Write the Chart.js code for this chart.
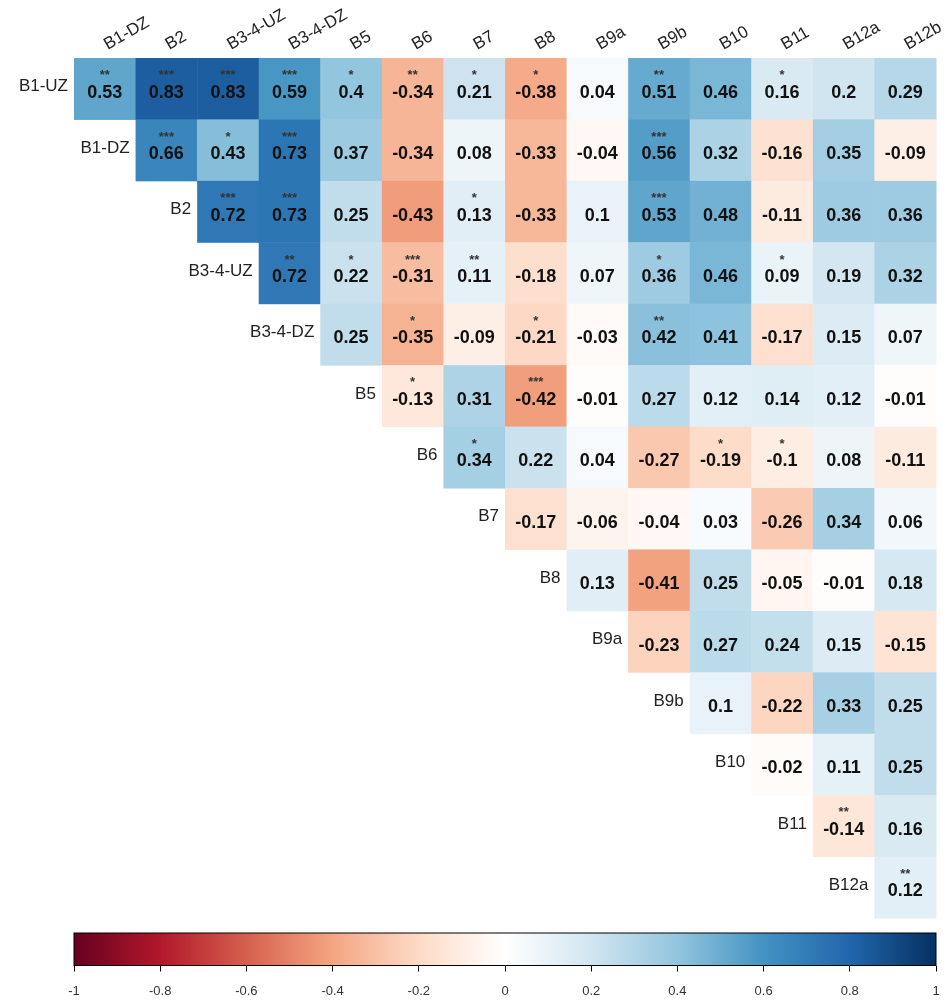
<!DOCTYPE html>
<html>
<head>
<meta charset="utf-8">
<script src="https://cdn.jsdelivr.net/npm/chart.js@4/dist/chart.umd.min.js"></script>
<style>
  body { margin: 0; background: #fff; }
  #main { display: block; }
  #bar { display: block; }
</style>
</head>
<body>
<div style="width:949px;height:925px"><canvas id="main"></canvas></div>
<div style="width:949px;height:77px"><canvas id="bar"></canvas></div>
<script>
// --- data ---
const rowLabels = ['B1-UZ', 'B1-DZ', 'B2', 'B3-4-UZ', 'B3-4-DZ', 'B5', 'B6', 'B7', 'B8', 'B9a', 'B9b', 'B10', 'B11', 'B12a'];
const colLabels = ['B1-DZ', 'B2', 'B3-4-UZ', 'B3-4-DZ', 'B5', 'B6', 'B7', 'B8', 'B9a', 'B9b', 'B10', 'B11', 'B12a', 'B12b'];

// each row starts at the diagonal column
const corrRows = [
    [0.53, 0.83, 0.83, 0.59, 0.4, -0.34, 0.21, -0.38, 0.04, 0.51, 0.46, 0.16, 0.2, 0.29],
    [0.66, 0.43, 0.73, 0.37, -0.34, 0.08, -0.33, -0.04, 0.56, 0.32, -0.16, 0.35, -0.09],
    [0.72, 0.73, 0.25, -0.43, 0.13, -0.33, 0.1, 0.53, 0.48, -0.11, 0.36, 0.36],
    [0.72, 0.22, -0.31, 0.11, -0.18, 0.07, 0.36, 0.46, 0.09, 0.19, 0.32],
    [0.25, -0.35, -0.09, -0.21, -0.03, 0.42, 0.41, -0.17, 0.15, 0.07],
    [-0.13, 0.31, -0.42, -0.01, 0.27, 0.12, 0.14, 0.12, -0.01],
    [0.34, 0.22, 0.04, -0.27, -0.19, -0.1, 0.08, -0.11],
    [-0.17, -0.06, -0.04, 0.03, -0.26, 0.34, 0.06],
    [0.13, -0.41, 0.25, -0.05, -0.01, 0.18],
    [-0.23, 0.27, 0.24, 0.15, -0.15],
    [0.1, -0.22, 0.33, 0.25],
    [-0.02, 0.11, 0.25],
    [-0.14, 0.16],
    [0.12]
];
const starRows = [
    ['**', '***', '***', '***', '*', '**', '*', '*', '', '**', '', '*', '', ''],
    ['***', '*', '***', '', '', '', '', '', '***', '', '', '', ''],
    ['***', '***', '', '', '*', '', '', '***', '', '', '', ''],
    ['**', '*', '***', '**', '', '', '*', '', '*', '', ''],
    ['', '*', '', '*', '', '**', '', '', '', ''],
    ['*', '', '***', '', '', '', '', '', ''],
    ['*', '', '', '', '*', '*', '', ''],
    ['', '', '', '', '', '', ''],
    ['', '', '', '', '', ''],
    ['', '', '', '', ''],
    ['', '', '', ''],
    ['', '', ''],
    ['**', ''],
    ['**']
];
const colorbarTicks = [-1, -0.8, -0.6, -0.4, -0.2, 0, 0.2, 0.4, 0.6, 0.8, 1];

// RdBu palette as used by corrplot
const palette = ['#67001F', '#B2182B', '#D6604D', '#F4A582', '#FDDBC7', '#FFFFFF',
                 '#D1E5F0', '#92C5DE', '#4393C3', '#2166AC', '#053061'];

function hexToRgb(h) {
    return [parseInt(h.slice(1, 3), 16), parseInt(h.slice(3, 5), 16), parseInt(h.slice(5, 7), 16)];
}
function colorFor(v) {
    const t = (v + 1) / 2 * (palette.length - 1);
    const i = Math.min(Math.floor(t), palette.length - 2);
    const f = t - i;
    const a = hexToRgb(palette[i]), b = hexToRgb(palette[i + 1]);
    const c = a.map((x, k) => Math.round(x + (b[k] - x) * f));
    return `rgb(${c[0]},${c[1]},${c[2]})`;
}

// build cell points
const cells = [];
corrRows.forEach((row, i) => {
    row.forEach((v, k) => {
        cells.push({ x: i + k + 0.5, y: i + 0.5, v: v, s: starRows[i][k] });
    });
});

const FONT = '"Liberation Sans", Arial, sans-serif';

const cellPlugin = {
    id: 'cells',
    beforeDatasetsDraw(chart) {
        const { ctx, scales: { x, y } } = chart;
        ctx.save();
        cells.forEach(c => {
            const x0 = x.getPixelForValue(c.x - 0.5), x1 = x.getPixelForValue(c.x + 0.5);
            const y0 = y.getPixelForValue(c.y - 0.5), y1 = y.getPixelForValue(c.y + 0.5);
            ctx.fillStyle = colorFor(c.v);
            ctx.fillRect(x0, y0, x1 - x0 + 0.5, y1 - y0 + 0.5);
        });
        ctx.restore();
    },
    afterDatasetsDraw(chart) {
        const { ctx, scales: { x, y } } = chart;
        ctx.save();
        ctx.textAlign = 'center';
        ctx.textBaseline = 'middle';
        cells.forEach(c => {
            const px = x.getPixelForValue(c.x), py = y.getPixelForValue(c.y);
            ctx.fillStyle = '#111';
            ctx.font = 'bold 18px ' + FONT;
            ctx.fillText(String(c.v), px, py + 4);
            if (c.s) {
                ctx.font = 'bold 13px ' + FONT;
                ctx.fillStyle = '#333';
                ctx.fillText(c.s, px, py - 13);
            }
        });
        // row labels, left of diagonal
        ctx.font = '17px ' + FONT;
        ctx.fillStyle = '#222';
        ctx.textAlign = 'right';
        rowLabels.forEach((lab, i) => {
            ctx.fillText(lab, x.getPixelForValue(i) - 6, y.getPixelForValue(i + 0.5) - 2);
        });
        // column labels, rotated
        ctx.textAlign = 'left';
        ctx.textBaseline = 'alphabetic';
        colLabels.forEach((lab, j) => {
            ctx.save();
            ctx.translate(x.getPixelForValue(j + 0.5) + 3, y.getPixelForValue(0) - 8);
            ctx.rotate(-Math.PI / 6);
            ctx.fillText(lab, 0, 0);
            ctx.restore();
        });
        ctx.restore();
    }
};

new Chart(document.getElementById('main'), {
    type: 'scatter',
    data: { datasets: [{ data: cells, pointRadius: 0, pointHoverRadius: 0 }] },
    options: {
        responsive: true, maintainAspectRatio: false, animation: false,
        layout: { padding: { left: 74, right: 13, top: 58, bottom: 7 } },
        plugins: { legend: { display: false }, tooltip: { enabled: false } },
        scales: {
            x: { type: 'linear', min: 0, max: 14, display: false },
            y: { type: 'linear', min: 0, max: 14, reverse: true, display: false }
        }
    },
    plugins: [cellPlugin]
});

const gradientPlugin = {
    id: 'gradientBar',
    beforeDatasetsDraw(chart) {
        const { ctx, chartArea: a, scales: { x } } = chart;
        ctx.save();
        const g = ctx.createLinearGradient(x.getPixelForValue(-1), 0, x.getPixelForValue(1), 0);
        palette.forEach((col, i) => g.addColorStop(i / (palette.length - 1), col));
        ctx.fillStyle = g;
        ctx.fillRect(a.left, a.top, a.right - a.left, a.bottom - a.top);
        ctx.strokeStyle = '#000';
        ctx.lineWidth = 1;
        ctx.strokeRect(a.left, a.top, a.right - a.left, a.bottom - a.top);
        ctx.restore();
    }
};

new Chart(document.getElementById('bar'), {
    type: 'scatter',
    data: { datasets: [{ data: [], pointRadius: 0 }] },
    options: {
        responsive: true, maintainAspectRatio: false, animation: false,
        layout: { padding: { left: 74, right: 13, top: 8, bottom: 4 } },
        plugins: { legend: { display: false }, tooltip: { enabled: false } },
        scales: {
            x: {
                type: 'linear', min: -1, max: 1,
                afterBuildTicks: axis => { axis.ticks = colorbarTicks.map(v => ({ value: v })); },
                afterFit: axis => { axis.paddingRight = 0; axis.paddingLeft = 0; },
                grid: { drawOnChartArea: false, drawTicks: true, tickLength: 6, color: '#000' },
                border: { display: false },
                ticks: {
                    color: '#333', font: { family: FONT, size: 13 }, padding: 12, maxRotation: 0,
                    callback: v => String(Math.round(v * 10) / 10)
                }
            },
            y: { display: false, min: 0, max: 1 }
        }
    },
    plugins: [gradientPlugin]
});
</script>
</body>
</html>
